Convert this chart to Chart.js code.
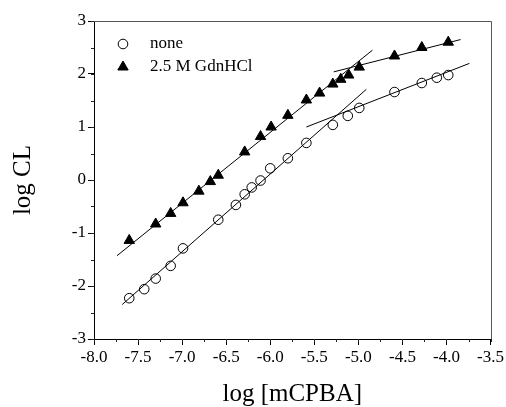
<!DOCTYPE html>
<html>
<head>
<meta charset="utf-8">
<script src="https://cdn.jsdelivr.net/npm/chart.js@4"></script>
<style>
  body { margin: 0; background: #fff; }
</style>
</head>
<body>
<canvas id="cl" width="506" height="407"></canvas>
<script>
// log CL vs log [mCPBA]
const noneX = [-7.60, -7.43, -7.30, -7.13, -6.99, -6.59, -6.39, -6.29, -6.21, -6.11, -6.00, -5.80, -5.59, -5.29, -5.12, -4.99, -4.59, -4.28, -4.11, -3.98];
const noneY = [-2.23, -2.06, -1.86, -1.62, -1.29, -0.75, -0.47, -0.27, -0.14, -0.01, 0.22, 0.41, 0.70, 1.04, 1.21, 1.36, 1.66, 1.83, 1.93, 1.98];

const gdnX = [-7.60, -7.30, -7.13, -6.99, -6.81, -6.68, -6.59, -6.29, -6.11, -5.99, -5.80, -5.59, -5.44, -5.29, -5.20, -5.11, -4.99, -4.59, -4.28, -3.98];
const gdnY = [-1.14, -0.83, -0.63, -0.43, -0.21, -0.03, 0.09, 0.53, 0.82, 1.00, 1.22, 1.51, 1.64, 1.81, 1.90, 1.98, 2.13, 2.34, 2.50, 2.60];

// fitted lines, end points
const noneFitLow = [[-7.68, -2.35], [-4.91, 1.71]];
const noneFitHigh = [[-5.59, 1.00], [-3.74, 2.20]];
const gdnFitLow = [[-7.74, -1.43], [-4.84, 2.45]];
const gdnFitHigh = [[-5.28, 2.04], [-3.84, 2.65]];

const xTicks = [-8.0, -7.5, -7.0, -6.5, -6.0, -5.5, -5.0, -4.5, -4.0, -3.5];
const yTicks = [-3, -2, -1, 0, 1, 2, 3];

const serif = "'Liberation Serif', 'DejaVu Serif', serif";

function pts(xs, ys) {
    return xs.map((x, i) => ({ x: x, y: ys[i] }));
}
function fitSet(p) {
    return {
        type: "line",
        data: p.map(q => ({ x: q[0], y: q[1] })),
        borderColor: "#000",
        borderWidth: 1,
        pointRadius: 0,
        fill: false,
        showLine: true
    };
}

// minor ticks, frame and legend
const extras = {
    id: "extras",
    afterDraw(chart) {
        const ctx = chart.ctx;
        const a = chart.chartArea;
        const xs = chart.scales.x, ys = chart.scales.y;
        ctx.save();
        ctx.strokeStyle = "#222";
        ctx.lineWidth = 1;
        ctx.beginPath();
        for (let v = -8; v <= -3.5 + 1e-9; v += 0.25) {
            const px = Math.round(xs.getPixelForValue(v)) + 0.5;
            ctx.moveTo(px, a.bottom);
            ctx.lineTo(px, a.bottom + 3);
        }
        for (let v = -3; v <= 3 + 1e-9; v += 0.5) {
            const py = Math.round(ys.getPixelForValue(v)) + 0.5;
            ctx.moveTo(a.left, py);
            ctx.lineTo(a.left - 3, py);
        }
        ctx.stroke();
        // top and right frame
        ctx.strokeStyle = "#555";
        ctx.beginPath();
        ctx.moveTo(a.left, Math.round(a.top) + 0.5);
        ctx.lineTo(Math.round(a.right) + 0.5, Math.round(a.top) + 0.5);
        ctx.lineTo(Math.round(a.right) + 0.5, a.bottom);
        ctx.stroke();

        // legend
        const items = [chart.data.datasets[0], chart.data.datasets[1]];
        const lx = a.left + 29, ly = [a.top + 23, a.top + 46];
        ctx.font = "17px " + serif;
        ctx.textBaseline = "middle";
        ctx.fillStyle = "#000";
        items.forEach((ds, i) => {
            ctx.strokeStyle = "#000";
            ctx.fillStyle = ds.pointBackgroundColor;
            ctx.lineWidth = 1;
            Chart.helpers.drawPoint(ctx, {
                pointStyle: ds.pointStyle,
                radius: ds.pointRadius,
                borderWidth: 1,
                rotation: 0
            }, lx, ly[i]);
            ctx.fillStyle = "#000";
            ctx.fillText(ds.label, lx + 27, ly[i]);
        });
        ctx.restore();
    }
};

new Chart(document.getElementById("cl"), {
    type: "scatter",
    data: {
        datasets: [
            {
                label: "none",
                data: pts(noneX, noneY),
                pointStyle: "circle",
                pointRadius: 4.8,
                pointBackgroundColor: "rgba(0,0,0,0)",
                pointBorderColor: "#000",
                pointBorderWidth: 1
            },
            {
                label: "2.5 M GdnHCl",
                data: pts(gdnX, gdnY),
                pointStyle: "triangle",
                pointRadius: 6,
                pointBackgroundColor: "#000",
                pointBorderColor: "#000",
                pointBorderWidth: 1
            },
            fitSet(noneFitLow),
            fitSet(noneFitHigh),
            fitSet(gdnFitLow),
            fitSet(gdnFitHigh)
        ]
    },
    options: {
        responsive: false,
        animation: false,
        layout: { padding: { left: 0, top: 21, right: 15, bottom: 0 } },
        plugins: {
            legend: { display: false },
            tooltip: { enabled: false }
        },
        scales: {
            x: {
                type: "linear",
                min: -8,
                max: -3.5,
                afterBuildTicks: s => { s.ticks = xTicks.map(v => ({ value: v })); },
                afterFit: s => { s.height = 68; },
                ticks: {
                    color: "#000",
                    font: { family: serif, size: 17 },
                    padding: 2,
                    maxRotation: 0,
                    autoSkip: false,
                    callback: v => v.toFixed(1)
                },
                grid: { drawOnChartArea: false, drawTicks: true, tickLength: 6, color: "#000" },
                border: { display: true, color: "#000", width: 1 },
                title: {
                    display: true,
                    text: "log [mCPBA]",
                    color: "#000",
                    font: { family: serif, size: 25, lineHeight: 1 },
                    padding: { top: 0, bottom: 0 }
                }
            },
            y: {
                type: "linear",
                min: -3,
                max: 3,
                afterBuildTicks: s => { s.ticks = yTicks.map(v => ({ value: v })); },
                afterFit: s => { s.width = 94; },
                ticks: {
                    color: "#000",
                    font: { family: serif, size: 17 },
                    padding: 2,
                    autoSkip: false,
                    callback: v => String(v)
                },
                grid: { drawOnChartArea: false, drawTicks: true, tickLength: 6, color: "#000" },
                border: { display: true, color: "#000", width: 1 },
                title: {
                    display: true,
                    text: "log CL",
                    color: "#000",
                    font: { family: serif, size: 25, lineHeight: 1 },
                    padding: { top: 11, bottom: 0 }
                }
            }
        }
    },
    plugins: [extras]
});
</script>
</body>
</html>
